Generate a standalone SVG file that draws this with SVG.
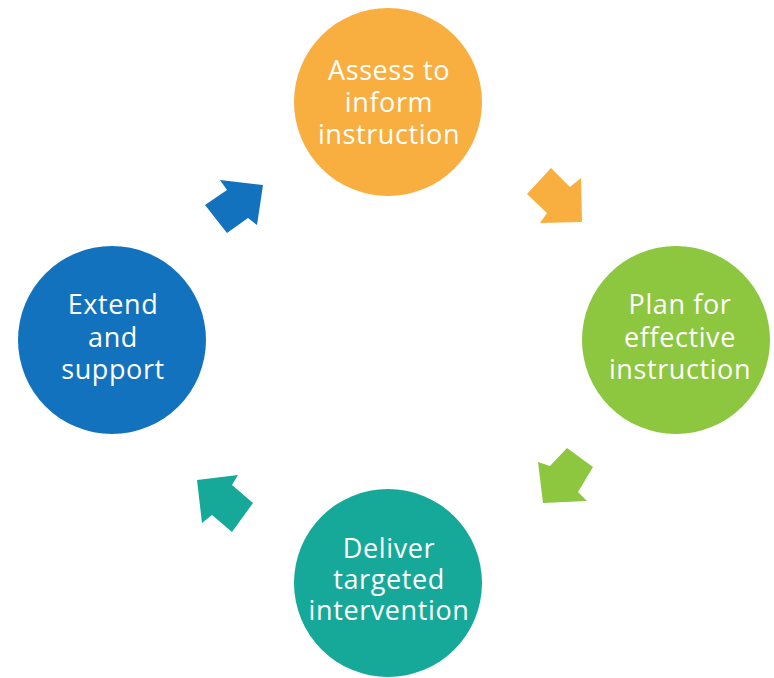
<svg xmlns="http://www.w3.org/2000/svg" width="774" height="678" viewBox="0 0 774 678">
<style>
.lbl{font-family:"Open Sans","Liberation Sans",sans-serif;font-size:27px;letter-spacing:0.6px;fill:#ffffff;text-anchor:middle}
</style>
<rect width="774" height="678" fill="#ffffff"/>
<g id="connectors">
<polygon points="551,168 570,187 581,178 582,222 540,223 547,213 527,194" fill="#F9AE40"/>
<polygon points="567,448 593,467 578,492 587,501 543,503 538,462 550,466" fill="#8DC63F"/>
<polygon points="197,480 238,475 232,485 253,503 232,532 212,515 202,523" fill="#16A99A"/>
<polygon points="263,185 220,180 227,190 205,205 227,233 248,218 257,225" fill="#1372BD"/>
</g>
<g id="assess">
<circle cx="388" cy="102" r="94" fill="#F9AE40"/>
<text class="lbl" x="389" y="80">Assess to</text>
<text class="lbl" x="389" y="112">inform</text>
<text class="lbl" x="389" y="144">instruction</text>
</g>
<g id="plan">
<circle cx="676" cy="340" r="94" fill="#8DC63F"/>
<text class="lbl" x="680" y="314">Plan for</text>
<text class="lbl" x="680" y="347">effective</text>
<text class="lbl" x="680" y="379">instruction</text>
</g>
<g id="deliver">
<circle cx="388" cy="583" r="94" fill="#16A99A"/>
<text class="lbl" x="389" y="558">Deliver</text>
<text class="lbl" x="389" y="589">targeted</text>
<text class="lbl" x="389" y="620">intervention</text>
</g>
<g id="extend">
<circle cx="112" cy="340" r="94" fill="#1372BD"/>
<text class="lbl" x="113" y="314">Extend</text>
<text class="lbl" x="113" y="347">and</text>
<text class="lbl" x="113" y="379">support</text>
</g>
</svg>
